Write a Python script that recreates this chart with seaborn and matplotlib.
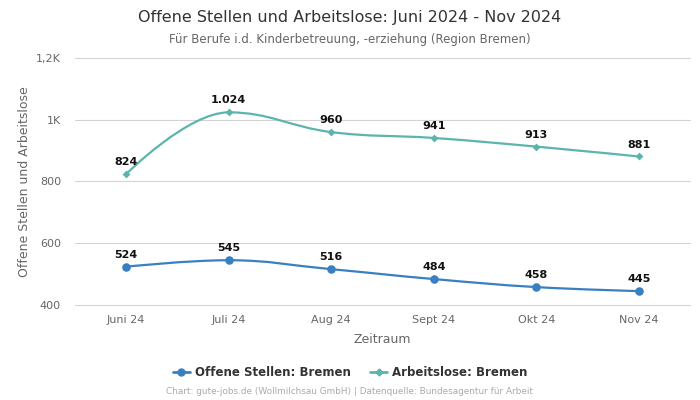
import matplotlib
matplotlib.use("Agg")
import matplotlib.pyplot as plt
from matplotlib.path import Path
from matplotlib.patches import PathPatch
from matplotlib.lines import Line2D
import seaborn as sns
import pandas as pd

months = ["Juni 24", "Juli 24", "Aug 24", "Sept 24", "Okt 24", "Nov 24"]
offene = [524, 545, 516, 484, 458, 445]
arbeitslose = [824, 1024, 960, 941, 913, 881]
yticks = [400, 600, 800, 1000, 1200]
yticklabels = ["400", "600", "800", "1K", "1,2K"]

c_off = "#3a80c0"
c_arb = "#5bb5ad"

sns.set_theme(style="white")
plt.rcParams['font.family'] = ['DejaVu Sans']

fig = plt.figure(figsize=(7, 4), dpi=100)
ax = fig.add_axes([0.107, 0.2375, 0.879, 0.6175])


def spline_path(xs, ys):
    s = 1.5
    d = s + 1
    n = len(xs)
    L = [None] * n
    R = [None] * n
    for i in range(n):
        px, py = xs[i], ys[i]
        if i == 0 or i == n - 1:
            L[i] = (px, py)
            R[i] = (px, py)
            continue
        lx, ly = xs[i - 1], ys[i - 1]
        nx, ny = xs[i + 1], ys[i + 1]
        lcx = (s * px + lx) / d
        lcy = (s * py + ly) / d
        rcx = (s * px + nx) / d
        rcy = (s * py + ny) / d
        if rcx != lcx:
            corr = ((rcy - lcy) * (rcx - px)) / (rcx - lcx) + py - rcy
            lcy += corr
            rcy += corr
            if lcy > ly and lcy > py:
                lcy = max(ly, py); rcy = 2 * py - lcy
            elif lcy < ly and lcy < py:
                lcy = min(ly, py); rcy = 2 * py - lcy
            if rcy > ny and rcy > py:
                rcy = max(ny, py); lcy = 2 * py - rcy
            elif rcy < ny and rcy < py:
                rcy = min(ny, py); lcy = 2 * py - rcy
        L[i] = (lcx, lcy)
        R[i] = (rcx, rcy)
    verts = [(xs[0], ys[0])]
    codes = [Path.MOVETO]
    for i in range(n - 1):
        verts += [R[i], L[i + 1], (xs[i + 1], ys[i + 1])]
        codes += [Path.CURVE4] * 3
    return Path(verts, codes)


xpos = list(range(len(months)))
for vals, col in [(arbeitslose, c_arb), (offene, c_off)]:
    ax.add_patch(PathPatch(spline_path(xpos, vals), facecolor="none",
                           edgecolor=col, lw=1.6, zorder=3))

df = pd.DataFrame({"x": xpos * 2,
                   "y": offene + arbeitslose,
                   "s": ["Offene Stellen: Bremen"] * 6 + ["Arbeitslose: Bremen"] * 6})
sns.scatterplot(data=df[df.s == "Offene Stellen: Bremen"], x="x", y="y", ax=ax,
                color=c_off, marker="o", s=38, edgecolor=c_off, linewidth=0,
                zorder=4, legend=False)
sns.scatterplot(data=df[df.s == "Arbeitslose: Bremen"], x="x", y="y", ax=ax,
                color=c_arb, marker="D", s=16, edgecolor=c_arb, linewidth=0,
                zorder=4, legend=False)

for vals in (offene, arbeitslose):
    for x, v in zip(xpos, vals):
        lab = f"{v:,}".replace(",", ".")
        ax.annotate(lab, (x, v), xytext=(0, 5), textcoords="offset points",
                    ha="center", va="bottom", fontsize=8, fontweight="bold",
                    color="#111111", zorder=5)

ax.set_xlim(-0.5, 5.5)
ax.set_ylim(400, 1200)
ax.set_yticks(yticks)
ax.set_yticklabels(yticklabels)
ax.set_xticks(xpos)
ax.set_xticklabels(months)
ax.tick_params(axis="both", length=0, labelsize=8, labelcolor="#666666")
ax.tick_params(axis="x", pad=7)
ax.tick_params(axis="y", pad=10)
for sp in ax.spines.values():
    sp.set_visible(False)
ax.grid(axis="y", color="#d3d3d3", lw=0.8)
ax.grid(axis="x", visible=False)
for gl in ax.yaxis.get_gridlines():
    gl.set_clip_on(False)
ax.set_axisbelow(True)
ax.set_xlabel("Zeitraum", fontsize=9, color="#666666", labelpad=6)
ax.set_ylabel("Offene Stellen und Arbeitslose", fontsize=9, color="#666666", labelpad=4)

fig.text(0.5, 0.957, "Offene Stellen und Arbeitslose: Juni 2024 - Nov 2024",
         ha="center", va="center", fontsize=11.5, color="#333333")
fig.text(0.5, 0.902, "Für Berufe i.d. Kinderbetreuung, -erziehung (Region Bremen)",
         ha="center", va="center", fontsize=8.5, color="#666666")
fig.text(0.5, 0.02, "Chart: gute-jobs.de (Wollmilchsau GmbH) | Datenquelle: Bundesagentur für Arbeit",
         ha="center", va="center", fontsize=6.4, color="#aaaaaa")

handles = [Line2D([], [], color=c_off, marker="o", markersize=5, lw=2),
           Line2D([], [], color=c_arb, marker="D", markersize=3.5, lw=2)]
leg = fig.legend(handles, ["Offene Stellen: Bremen", "Arbeitslose: Bremen"],
                 loc="center", bbox_to_anchor=(0.5, 0.068), ncol=2, frameon=False,
                 prop={"weight": "bold", "size": 8.5}, handlelength=1.5,
                 handletextpad=0.4, columnspacing=1.6)
for t in leg.get_texts():
    t.set_color("#333333")

fig.savefig("out.png", dpi=100)
